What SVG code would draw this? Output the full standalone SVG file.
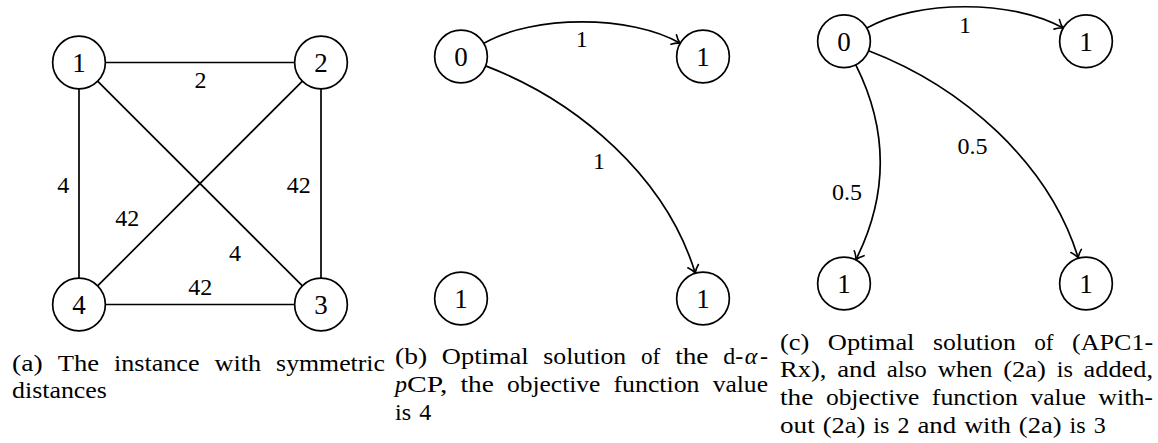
<svg xmlns="http://www.w3.org/2000/svg" width="1158" height="443" viewBox="0 0 1158 443">
<style>
text { font-family: "Liberation Serif", "Times New Roman", serif; fill: #000; }
.node circle { fill: #fff; stroke: #000; stroke-width: 1.7; }
.node text { font-size: 27px; text-anchor: middle; }
.el { font-size: 24px; text-anchor: middle; }
#connectors line, #connectors path { fill: none; stroke: #000; stroke-width: 1.7; }
#connectors path { marker-end: url(#arr); }
.cap { font-size: 24px; }
.it { font-style: italic; }
</style>
<defs>
<marker id="arr" viewBox="-10 -8 12 16" refX="0" refY="0" markerWidth="12" markerHeight="16" markerUnits="userSpaceOnUse" orient="auto" overflow="visible">
<path d="M-7.5,-5.5 C-4.5,-2.2 -1.5,-0.6 0,0 C-1.5,0.6 -4.5,2.2 -7.5,5.5" fill="none" stroke="#000" stroke-width="1.6" stroke-linecap="round"/>
</marker>
</defs>
<rect width="1158" height="443" fill="#fff"/>

<g id="connectors">
<line x1="105.4" y1="62.5" x2="294.6" y2="62.5"/>
<line x1="321" y1="88.9" x2="321" y2="278.1"/>
<line x1="105.4" y1="304.5" x2="294.6" y2="304.5"/>
<line x1="79" y1="88.9" x2="79" y2="278.1"/>
<line x1="97.6" y1="81.1" x2="302.4" y2="285.9"/>
<line x1="302.4" y1="81.1" x2="97.6" y2="285.9"/>
<path d="M483.8,43.3 C533.2,14.8 630.8,14.8 680.2,43.3"/>
<path d="M485.6,65.9 C579,101.7 666.1,177.7 695.3,273.3"/>
<path d="M866.8,28.1 C916.2,-0.4 1013.8,-0.4 1063.2,28.1"/>
<path d="M868.6,50.7 C962,86.5 1049.1,162.5 1078.3,258.1"/>
<path d="M855.8,64.9 C888.1,129.3 888.1,195.5 855.8,259.9"/>
</g>

<g id="edge-labels">
<text class="el" x="200.5" y="88.3">2</text>
<text class="el" x="63.3" y="192.7">4</text>
<text class="el" x="298.7" y="192.7">42</text>
<text class="el" x="127.2" y="226">42</text>
<text class="el" x="235" y="260.7">4</text>
<text class="el" x="200.2" y="295">42</text>
<text class="el" x="581.7" y="46.7">1</text>
<text class="el" x="599" y="168.5">1</text>
<text class="el" x="965" y="32.5">1</text>
<text class="el" x="972.5" y="154">0.5</text>
<text class="el" x="847" y="200">0.5</text>
</g>

<g id="a1" class="node"><circle cx="79" cy="62.5" r="26.35"/><text x="79" y="71.7">1</text></g>
<g id="a2" class="node"><circle cx="321" cy="62.5" r="26.35"/><text x="321" y="71.7">2</text></g>
<g id="a3" class="node"><circle cx="321" cy="304.5" r="26.35"/><text x="321" y="313.7">3</text></g>
<g id="a4" class="node"><circle cx="79" cy="304.5" r="26.35"/><text x="79" y="313.7">4</text></g>
<g id="b0" class="node"><circle cx="461" cy="56.5" r="26.35"/><text x="461" y="65.7">0</text></g>
<g id="b1" class="node"><circle cx="703" cy="56.5" r="26.35"/><text x="703" y="65.7">1</text></g>
<g id="b2" class="node"><circle cx="461" cy="298.5" r="26.35"/><text x="461" y="307.7">1</text></g>
<g id="b3" class="node"><circle cx="703" cy="298.5" r="26.35"/><text x="703" y="307.7">1</text></g>
<g id="c0" class="node"><circle cx="844" cy="41.3" r="26.35"/><text x="844" y="50.5">0</text></g>
<g id="c1" class="node"><circle cx="1086" cy="41.3" r="26.35"/><text x="1086" y="50.5">1</text></g>
<g id="c2" class="node"><circle cx="844" cy="283.5" r="26.35"/><text x="844" y="292.7">1</text></g>
<g id="c3" class="node"><circle cx="1086" cy="283.5" r="26.35"/><text x="1086" y="292.7">1</text></g>

<g id="captions">
<text class="cap" y="370.5"><tspan x="12" textLength="30.67" lengthAdjust="spacingAndGlyphs">(a)</tspan> <tspan x="57.67" textLength="41.33" lengthAdjust="spacingAndGlyphs">The</tspan> <tspan x="114" textLength="85.46" lengthAdjust="spacingAndGlyphs">instance</tspan> <tspan x="214.46" textLength="46.68" lengthAdjust="spacingAndGlyphs">with</tspan> <tspan x="276.14" textLength="108.84" lengthAdjust="spacingAndGlyphs">symmetric</tspan></text>
<text class="cap" y="398.3"><tspan x="12" textLength="94.9" lengthAdjust="spacingAndGlyphs">distances</tspan></text>

<text class="cap" y="364"><tspan x="395" textLength="32.02" lengthAdjust="spacingAndGlyphs">(b)</tspan> <tspan x="441.84" textLength="86.69" lengthAdjust="spacingAndGlyphs">Optimal</tspan> <tspan x="543.35" textLength="82.82" lengthAdjust="spacingAndGlyphs">solution</tspan> <tspan x="640.99" textLength="19.34" lengthAdjust="spacingAndGlyphs">of</tspan> <tspan x="675.15" textLength="33.34" lengthAdjust="spacingAndGlyphs">the</tspan> <tspan x="723.31">d-</tspan><tspan class="it" x="744.65">α</tspan><tspan x="760.01">-</tspan></text>
<text class="cap" y="391.8"><tspan class="it" x="395">p</tspan><tspan x="407.07" textLength="40.34" lengthAdjust="spacingAndGlyphs">CP,</tspan> <tspan x="460.54" textLength="33.34" lengthAdjust="spacingAndGlyphs">the</tspan> <tspan x="507.01" textLength="93.34" lengthAdjust="spacingAndGlyphs">objective</tspan> <tspan x="613.48" textLength="86.04" lengthAdjust="spacingAndGlyphs">function</tspan> <tspan x="712.65" textLength="55.34" lengthAdjust="spacingAndGlyphs">value</tspan></text>
<text class="cap" y="419.6"><tspan x="395" textLength="16.13" lengthAdjust="spacingAndGlyphs">is</tspan> <tspan x="419.13">4</tspan></text>

<text class="cap" y="349.5"><tspan x="780" textLength="29.33" lengthAdjust="spacingAndGlyphs">(c)</tspan> <tspan x="827.79" textLength="86.69" lengthAdjust="spacingAndGlyphs">Optimal</tspan> <tspan x="933" textLength="82.82" lengthAdjust="spacingAndGlyphs">solution</tspan> <tspan x="1034.27" textLength="19.34" lengthAdjust="spacingAndGlyphs">of</tspan> <tspan x="1072.07" textLength="81" lengthAdjust="spacingAndGlyphs">(APC1-</tspan></text>
<text class="cap" y="377.3"><tspan x="780" textLength="46.34" lengthAdjust="spacingAndGlyphs">Rx),</tspan> <tspan x="837.18" textLength="38.69" lengthAdjust="spacingAndGlyphs">and</tspan> <tspan x="886.7" textLength="40.13" lengthAdjust="spacingAndGlyphs">also</tspan> <tspan x="937.66" textLength="54.67" lengthAdjust="spacingAndGlyphs">when</tspan> <tspan x="1003.17" textLength="42.67" lengthAdjust="spacingAndGlyphs">(2a)</tspan> <tspan x="1056.68" textLength="16.13" lengthAdjust="spacingAndGlyphs">is</tspan> <tspan x="1083.64" textLength="69.36" lengthAdjust="spacingAndGlyphs">added,</tspan></text>
<text class="cap" y="405.1"><tspan x="780" textLength="33.34" lengthAdjust="spacingAndGlyphs">the</tspan> <tspan x="825.91" textLength="93.34" lengthAdjust="spacingAndGlyphs">objective</tspan> <tspan x="931.82" textLength="86.04" lengthAdjust="spacingAndGlyphs">function</tspan> <tspan x="1030.43" textLength="55.34" lengthAdjust="spacingAndGlyphs">value</tspan> <tspan x="1098.34" textLength="54.67" lengthAdjust="spacingAndGlyphs">with-</tspan></text>
<text class="cap" y="432.9"><tspan x="780" textLength="34.68" lengthAdjust="spacingAndGlyphs">out</tspan> <tspan x="822.68" textLength="42.67" lengthAdjust="spacingAndGlyphs">(2a)</tspan> <tspan x="873.35" textLength="16.13" lengthAdjust="spacingAndGlyphs">is</tspan> <tspan x="897.48">2</tspan> <tspan x="917.48" textLength="38.69" lengthAdjust="spacingAndGlyphs">and</tspan> <tspan x="964.17" textLength="46.68" lengthAdjust="spacingAndGlyphs">with</tspan> <tspan x="1018.85" textLength="42.67" lengthAdjust="spacingAndGlyphs">(2a)</tspan> <tspan x="1069.52" textLength="16.13" lengthAdjust="spacingAndGlyphs">is</tspan> <tspan x="1093.65">3</tspan></text>
</g>
</svg>
